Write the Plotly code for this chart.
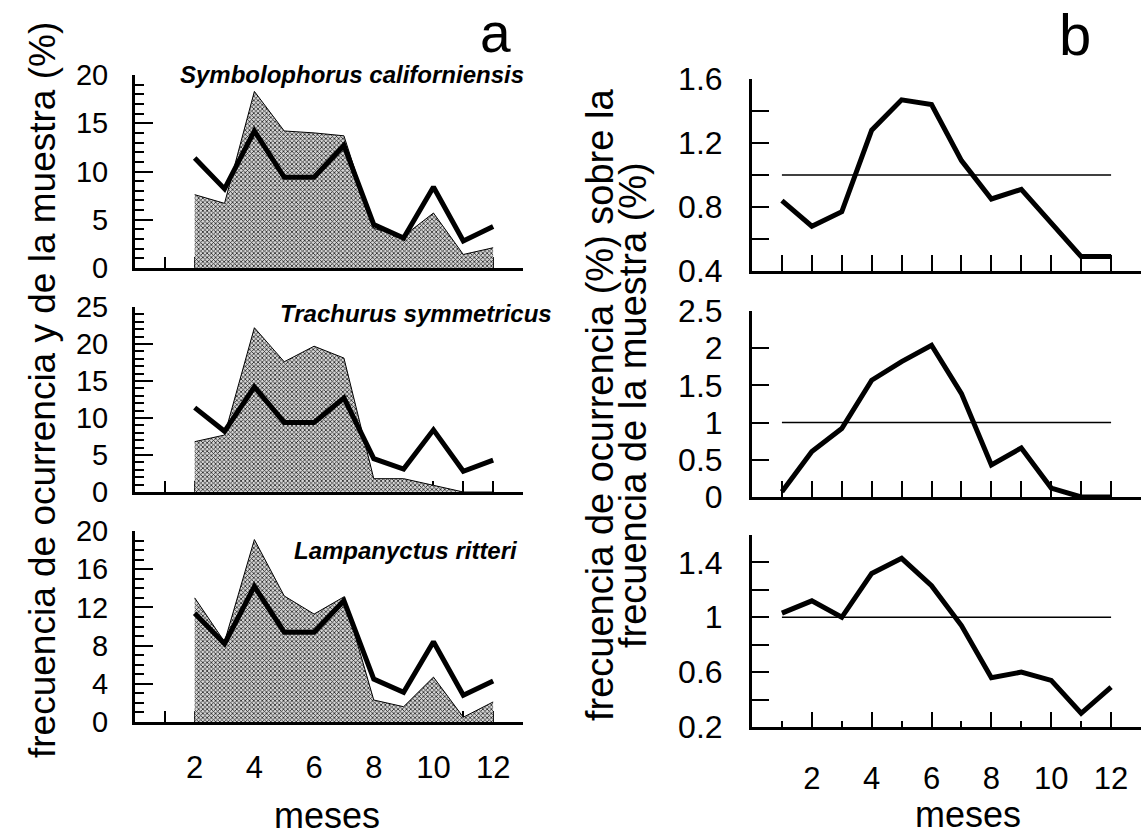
import plotly.graph_objects as go

# ---------------- data ----------------
meses = list(range(1, 13))
meses_a = list(range(2, 13))

muestra = [11.4, 8.2, 14.2, 9.4, 9.4, 12.7, 4.5, 3.1, 8.4, 2.8, 4.3]
symbolophorus = [7.6, 6.7, 18.3, 14.2, 14.0, 13.7, 4.1, 3.3, 5.7, 1.4, 2.1]
trachurus = [6.8, 7.7, 22.2, 17.6, 19.7, 18.1, 1.8, 1.8, 0.9, 0.0, 0.0]
lampanyctus = [13.0, 8.4, 19.1, 13.2, 11.3, 13.1, 2.3, 1.6, 4.7, 0.5, 2.1]

ratio_symbolophorus = [0.84, 0.68, 0.77, 1.28, 1.47, 1.44, 1.09, 0.85, 0.91, 0.70, 0.49, 0.49]
ratio_trachurus = [0.07, 0.61, 0.92, 1.57, 1.82, 2.04, 1.39, 0.43, 0.66, 0.12, 0.0, 0.0]
ratio_lampanyctus = [1.03, 1.12, 1.00, 1.32, 1.43, 1.23, 0.94, 0.56, 0.60, 0.54, 0.30, 0.49]

referencia_x = [1, 12]
referencia_y = [1.0, 1.0]

especies = ["Symbolophorus californiensis", "Trachurus symmetricus", "Lampanyctus ritteri"]
x_ticks = [2, 4, 6, 8, 10, 12]

# ---------------- layout helpers ----------------
W, H = 1141, 835
FONT = "Liberation Sans, Arial, sans-serif"


def fx(px):
    return px / W


def fy(px):
    return 1 - px / H


fig = go.Figure()

a_dom = [fx(135), fx(523)]
b_dom = [fx(752), 1.0]

a_rows = [(75, 268), (307, 492), (531, 722)]
b_rows = [(79, 271), (311, 497), (535, 727)]

a_series = [symbolophorus, trachurus, lampanyctus]
a_yrange = [(0, 20, 5), (0, 25, 5), (0, 20, 4)]

b_series = [ratio_symbolophorus, ratio_trachurus, ratio_lampanyctus]
b_yrange = [(0.4, 1.6), (0, 2.5), (0.2, 1.6)]
b_major = [[0.4, 0.8, 1.2, 1.6], [0, 0.5, 1, 1.5, 2, 2.5], [0.2, 0.6, 1.0, 1.4]]
b_majtext = [["0.4", "0.8", "1.2", "1.6"], ["0", "0.5", "1", "1.5", "2", "2.5"], ["0.2", "0.6", "1", "1.4"]]

axis_common = dict(showline=True, linecolor="black", linewidth=3, showgrid=False,
                   zeroline=False, ticks="inside", tickcolor="black", tickwidth=2,
                   automargin=False,
                   tickfont=dict(family=FONT, size=31, color="black"))

layout = dict(width=W, height=H, margin=dict(l=0, r=0, t=0, b=0, pad=0, autoexpand=False),
              template="none",
              paper_bgcolor="white", plot_bgcolor="rgba(0,0,0,0)", showlegend=False)

n = 0
# Panel a
for i in range(3):
    n += 1
    xa = "x" if n == 1 else f"x{n}"
    ya = "y" if n == 1 else f"y{n}"
    xkey = "xaxis" if n == 1 else f"xaxis{n}"
    ykey = "yaxis" if n == 1 else f"yaxis{n}"
    fig.add_trace(go.Scatter(
        x=meses_a, y=a_series[i], mode="lines", fill="tozeroy",
        line=dict(color="black", width=1),
        fillcolor="#a8a8a8",
        fillpattern=dict(shape="x", size=3, solidity=0.45, fgcolor="#222222",
                         bgcolor="#d6d6d6", fillmode="replace"),
        xaxis=xa, yaxis=ya))
    fig.add_trace(go.Scatter(
        x=meses_a, y=muestra, mode="lines",
        line=dict(color="black", width=5), xaxis=xa, yaxis=ya))
    lo, hi, step = a_yrange[i]
    xax = dict(axis_common, domain=a_dom, range=[0, 13], anchor=ya,
               layer="below traces", ticklen=11)
    if i == 2:
        xax.update(tickmode="array", tickvals=x_ticks, showticklabels=True,
                   ticklabelstandoff=16,
                   minor=dict(tickvals=[1, 3, 5, 7, 9, 11], ticks="inside",
                              ticklen=11, tickwidth=2, tickcolor="black"))
    else:
        xax.update(tickmode="array", tickvals=meses, showticklabels=False)
    layout[xkey] = xax
    layout[ykey] = dict(axis_common, domain=[fy(a_rows[i][1]), fy(a_rows[i][0])],
                        range=[lo, hi], anchor=xa, tickmode="linear", tick0=0,
                        dtick=step, ticklen=18, ticklabelstandoff=18,
                        tickfont=dict(family=FONT, size=29, color="black"),
                        minor=dict(dtick=1, tick0=0, ticks="inside", ticklen=9,
                                   tickwidth=1.5, tickcolor="black"))

# Panel b
for i in range(3):
    n += 1
    xa, ya = f"x{n}", f"y{n}"
    xkey, ykey = f"xaxis{n}", f"yaxis{n}"
    fig.add_trace(go.Scatter(
        x=referencia_x, y=referencia_y, mode="lines",
        line=dict(color="black", width=1.5), xaxis=xa, yaxis=ya))
    fig.add_trace(go.Scatter(
        x=meses, y=b_series[i], mode="lines",
        line=dict(color="black", width=5), xaxis=xa, yaxis=ya))
    lo, hi = b_yrange[i]
    xax = dict(axis_common, domain=b_dom, range=[0, 13], anchor=ya)
    if i == 2:
        xax.update(tickmode="array", tickvals=x_ticks, ticklen=15,
                   showticklabels=True, ticklabelstandoff=22,
                   minor=dict(tickvals=[1, 3, 5, 7, 9, 11], ticks="inside",
                              ticklen=6, tickwidth=2, tickcolor="black"))
    else:
        xax.update(tickmode="array", tickvals=meses, ticklen=16,
                   showticklabels=False)
    layout[xkey] = xax
    yax = dict(axis_common, domain=[fy(b_rows[i][1]), fy(b_rows[i][0])],
               range=[lo, hi], anchor=xa, tickmode="array",
               tickvals=b_major[i], ticktext=b_majtext[i], ticklen=17,
               ticklabelstandoff=20,
               tickfont=dict(family=FONT, size=32, color="black"))
    if i != 1:
        yax["minor"] = dict(dtick=0.2, tick0=lo, ticks="inside", ticklen=17,
                            tickwidth=2, tickcolor="black")
    layout[ykey] = yax

fig.update_layout(**layout)

ann = []
# panel letters
ann.append(dict(x=fx(495), y=1.0, yanchor="top", text="a", font=dict(family=FONT, size=55)))
ann.append(dict(x=fx(1075), y=1.0, yanchor="top", text="b", font=dict(family=FONT, size=58)))
# species names
sp_pos = [(178, 74), (278, 313), (292, 550)]
for name, (px, py) in zip(especies, sp_pos):
    ann.append(dict(x=fx(px), y=fy(py), xanchor="left", text=f"<b><i>{name}</i></b>",
                    font=dict(family=FONT, size=24)))
# y titles
ann.append(dict(x=fx(42), y=fy(390), text="frecuencia de ocurrencia y de la muestra (%)",
                textangle=-90, font=dict(family=FONT, size=37)))
ann.append(dict(x=fx(600), y=fy(405), text="frecuencia de ocurrencia (%) sobre la",
                textangle=-90, font=dict(family=FONT, size=38)))
ann.append(dict(x=fx(633), y=fy(405), text="frecuencia de la muestra (%)",
                textangle=-90, font=dict(family=FONT, size=38)))
# x titles
ann.append(dict(x=fx(327), y=fy(815), text="meses", font=dict(family=FONT, size=36)))
ann.append(dict(x=fx(968), y=fy(814), text="meses", font=dict(family=FONT, size=36)))

for a in ann:
    a.update(xref="paper", yref="paper", showarrow=False)
    a.setdefault("xanchor", "center")
    a.setdefault("yanchor", "middle")
    a["font"].setdefault("color", "black")

fig.update_layout(annotations=ann)
fig.write_html("out.html")
